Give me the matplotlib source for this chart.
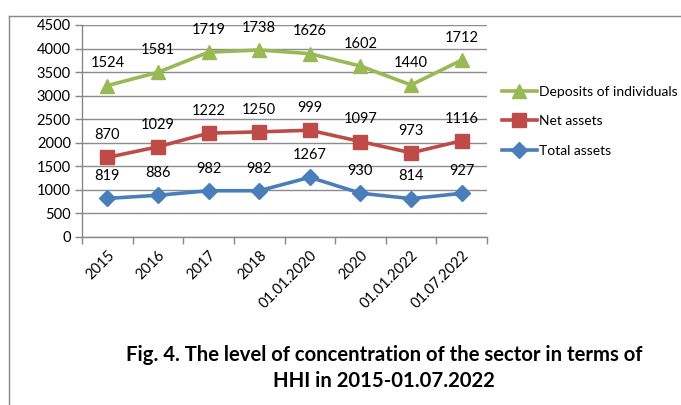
import numpy as np
import matplotlib
matplotlib.use("Agg")
import matplotlib.pyplot as plt
from matplotlib.lines import Line2D

categories = ["2015", "2016", "2017", "2018", "01.01.2020", "2020", "01.01.2022", "01.07.2022"]
total_assets = [819, 886, 982, 982, 1267, 930, 814, 927]
net_assets = [870, 1029, 1222, 1250, 999, 1097, 973, 1116]
deposits = [1524, 1581, 1719, 1738, 1626, 1602, 1440, 1712]
series_names = ["Total assets", "Net assets", "Deposits of individuals"]
yticks = [0, 500, 1000, 1500, 2000, 2500, 3000, 3500, 4000, 4500]
title = "Fig. 4. The level of concentration of the sector in terms of\nHHI in 2015-01.07.2022"

plt.rcParams['font.family'] = ['Lato', 'DejaVu Sans']

fig = plt.figure(figsize=(6.81, 4.05), dpi=100)
W, H = 681, 405
ax = fig.add_axes([82 / W, 1 - 237 / H, (487 - 82) / W, (237 - 25) / H])

x = np.arange(len(categories))
stack = np.cumsum(np.array([total_assets, net_assets, deposits]), axis=0)
colors = ["#4A7EBB", "#BE4B48", "#98B954"]
markers = ["D", "s", "^"]
msizes = [8, 9.5, 10]
raws = [total_assets, net_assets, deposits]
handles = []
for i in range(3):
    h, = ax.plot(x, stack[i], color=colors[i], lw=2.6, marker=markers[i],
                 ms=msizes[i], mec=colors[i], mfc=colors[i], label=series_names[i],
                 solid_joinstyle='round', zorder=3)
    handles.append(h)
    for xi, yi, v in zip(x, stack[i], raws[i]):
        ax.annotate(str(v), (xi, yi), xytext=(0, 16), textcoords='offset points',
                    ha='center', va='center', fontsize=10.5, color='#000000')

ax.set_xlim(-0.5, len(categories) - 0.5)
ax.set_ylim(0, 4500)
ax.set_yticks(yticks)
ax.set_yticklabels([str(t) for t in yticks], fontsize=10.5)
ax.set_xticks(x)
ax.set_xticklabels(categories, rotation=45, ha='right', va='top',
                   rotation_mode='anchor', fontsize=10.5)
ax.set_xticks(np.arange(-0.5, len(categories)), minor=True)
ax.tick_params(axis='x', which='major', length=0, pad=8)
ax.tick_params(axis='x', which='minor', length=5, color='#888888', width=1)
ax.tick_params(axis='y', length=5, color='#888888', width=1, pad=3)
ax.grid(axis='y', color='#8C8C8C', lw=1)
ax.set_axisbelow(True)
for s in ['top', 'right']:
    ax.spines[s].set_visible(False)
for s in ['left', 'bottom']:
    ax.spines[s].set_color('#888888')
    ax.spines[s].set_linewidth(1)

leg = fig.legend(handles[::-1], series_names[::-1], loc='upper left',
                 bbox_to_anchor=(502 / W, 1 - 86 / H), frameon=False,
                 fontsize=10, handlelength=2.5, handletextpad=0.15,
                 labelspacing=1.25, borderaxespad=0, borderpad=0)

fig.text(384 / W, 1 - 368 / H, title, ha='center', va='center', fontsize=14.6,
         fontweight='bold', linespacing=1.4)

fig.add_artist(Line2D([9 / W, 1], [1 - 16 / H, 1 - 16 / H], color='#888888', lw=1))
fig.add_artist(Line2D([9 / W, 9 / W], [0, 1 - 16 / H], color='#888888', lw=1))

fig.savefig("out.png", dpi=100)
